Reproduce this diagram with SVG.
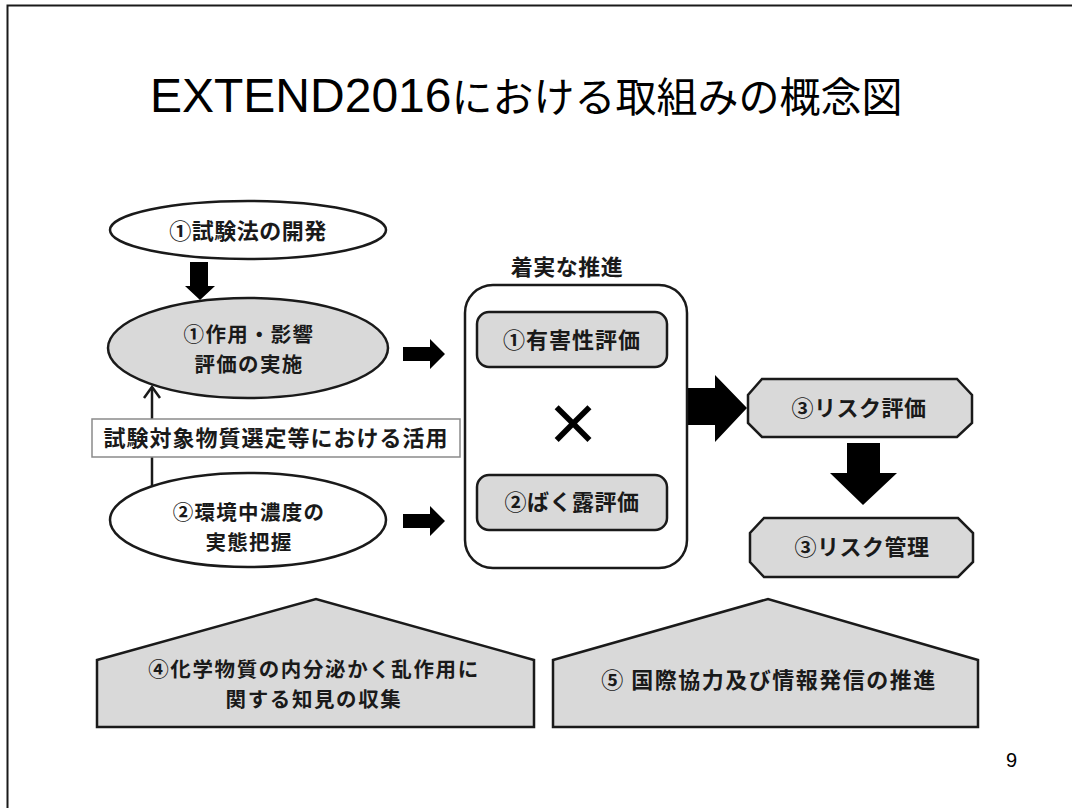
<svg xmlns="http://www.w3.org/2000/svg" width="1072" height="808" viewBox="0 0 1072 808">
<style>
.shape{stroke:#1a1a1a;stroke-width:2.5}
.gray{fill:#d9d9d9}
.white{fill:#ffffff}
.t{font-family:"Noto Sans CJK JP","Noto Sans",sans-serif;font-weight:bold;font-size:22px;fill:#1a1a1a;text-anchor:middle;letter-spacing:0.5px}
.t2{font-size:20.5px;letter-spacing:1.3px}
.arrow{fill:#000000;stroke:none}
</style>
<rect x="0" y="0" width="1072" height="808" fill="#ffffff"/>
<rect id="page-border" x="7.5" y="5.5" width="1080" height="820" fill="none" stroke="#1a1a1a" stroke-width="2"/>
<g id="title">
<text x="150" y="112" font-family="'Liberation Sans','Noto Sans CJK JP',sans-serif" font-size="48" fill="#000">EXTEND2016<tspan font-family="'Noto Sans CJK JP',sans-serif" font-size="41">における取組みの概念図</tspan></text>
</g>
<g id="connectors">
<polygon class="arrow" points="190,262 208,262 208,286 215,286 200,300 185,286 190,286"/>
<polygon class="arrow" points="403,347 430,347 430,339 445,354 430,369 430,361 403,361"/>
<polygon class="arrow" points="403,514 430,514 430,506 445,521 430,536 430,528 403,528"/>
<line x1="152" y1="486" x2="152" y2="387" stroke="#1a1a1a" stroke-width="2.5"/>
<polyline points="144,398 152,387 160,398" fill="none" stroke="#1a1a1a" stroke-width="2.5"/>
<polygon class="arrow" points="685,388 715,388 715,375 747,408 715,442 715,425 685,425"/>
<polygon class="arrow" points="847,443 880,443 880,473 897,473 863,505 830,473 847,473"/>
</g>
<g id="node-test-method">
<ellipse class="shape white" cx="248" cy="230" rx="138" ry="29"/>
<text class="t" x="248" y="239">①試験法の開発</text>
</g>
<g id="node-effect-eval">
<ellipse class="shape gray" cx="248" cy="348" rx="140" ry="50"/>
<text class="t t2" x="249" y="342">①作用・影響</text>
<text class="t t2" x="249" y="372">評価の実施</text>
</g>
<g id="label-usage">
<rect x="92" y="419" width="368" height="38" fill="#ffffff" stroke="#8a8a8a" stroke-width="1.5"/>
<text class="t" x="276" y="446" style="letter-spacing:1px">試験対象物質選定等における活用</text>
</g>
<g id="node-env-conc">
<ellipse class="shape white" cx="248" cy="520" rx="138" ry="47"/>
<text class="t t2" x="249" y="520">②環境中濃度の</text>
<text class="t t2" x="249" y="550">実態把握</text>
</g>
<g id="node-steady">
<text class="t" x="567" y="275">着実な推進</text>
<rect class="shape white" x="465" y="285" width="222" height="283" rx="28"/>
</g>
<g id="node-hazard">
<rect class="shape gray" x="477" y="312" width="190" height="55" rx="12"/>
<text class="t" x="572" y="348" style="letter-spacing:1px">①有害性評価</text>
</g>
<g id="node-times">
<text x="573" y="445" font-family="'Noto Sans CJK JP',sans-serif" font-weight="bold" font-size="56" fill="#000" text-anchor="middle">×</text>
</g>
<g id="node-exposure">
<rect class="shape gray" x="477" y="475" width="190" height="55" rx="12"/>
<text class="t" x="572" y="510">②ばく露評価</text>
</g>
<g id="node-risk-eval">
<polygon class="shape gray" points="762,379 957,379 972,395 972,423 957,437 762,437 748,423 748,395"/>
<text class="t" x="859" y="416">③リスク評価</text>
</g>
<g id="node-risk-mgmt">
<polygon class="shape gray" points="764,518 958,518 973,533 973,562 958,577 764,577 750,562 750,533"/>
<text class="t" x="862" y="555">③リスク管理</text>
</g>
<g id="node-endocrine">
<polygon class="shape gray" points="97,727 97,660 316,599 534,660 534,727"/>
<text class="t t2" x="314" y="677" style="letter-spacing:1.6px">④化学物質の内分泌かく乱作用に</text>
<text class="t t2" x="314" y="707" style="letter-spacing:1.6px">関する知見の収集</text>
</g>
<g id="node-international">
<polygon class="shape gray" points="553,727 553,660 768,599 978,660 978,727"/>
<text class="t" x="769" y="688" style="letter-spacing:1.5px">⑤ 国際協力及び情報発信の推進</text>
</g>
<text x="1006" y="767" font-family="'Liberation Sans',sans-serif" font-size="20" fill="#000">9</text>
</svg>
